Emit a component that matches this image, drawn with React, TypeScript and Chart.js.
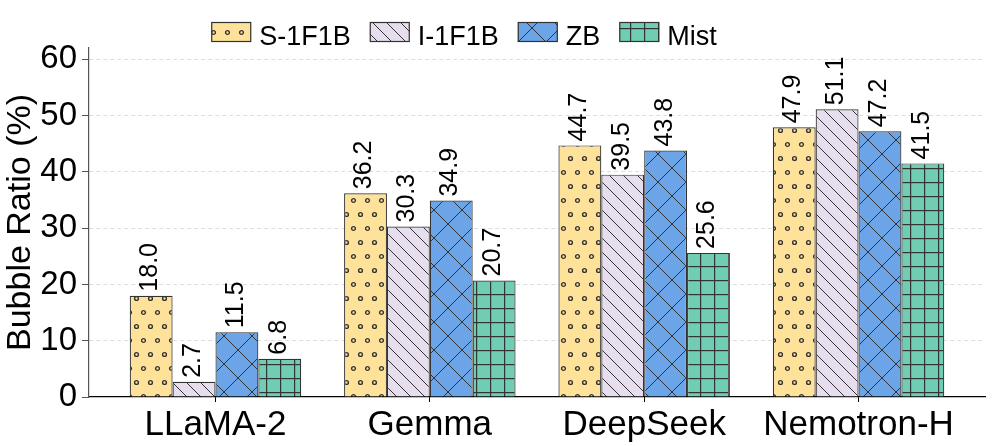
import React, { useEffect, useRef } from 'react';
import { Chart, registerables } from 'chart.js';

Chart.register(...registerables);

const categories = ['LLaMA-2', 'Gemma', 'DeepSeek', 'Nemotron-H'];
const seriesNames = ['S-1F1B', 'I-1F1B', 'ZB', 'Mist'];
const s1f1bValues = [18.0, 36.2, 44.7, 47.9];
const i1f1bValues = [2.7, 30.3, 39.5, 51.1];
const zbValues = [11.5, 34.9, 43.8, 47.2];
const mistValues = [6.8, 20.7, 25.6, 41.5];
const yTickValues = [0, 10, 20, 30, 40, 50, 60];

const FAMILY = '"Liberation Sans", Arial, Helvetica, sans-serif';
const fillColors = ['#FEE29A', '#E6DEEE', '#6BA5E7', '#6FCDB4'];
const hatchKinds = ['dots', 'back', 'cross', 'grid'];
const HATCH = '#333333';

function makePattern(kind: string, bg: string): CanvasPattern | string {
  const c = document.createElement('canvas');
  let w = 14;
  let h = 14;
  if (kind === 'dots') { w = 14; h = 28; }
  if (kind === 'cross') { w = 28; h = 28; }
  c.width = w;
  c.height = h;
  const g = c.getContext('2d');
  if (!g) return bg;
  g.fillStyle = bg;
  g.fillRect(0, 0, w, h);
  g.strokeStyle = HATCH;
  g.fillStyle = HATCH;
  g.lineWidth = 1;
  if (kind === 'dots') {
    const pts = [[3.5, 4.5], [10.5, 18.5]];
    g.lineWidth = 1.4;
    for (const [px, py] of pts) {
      g.beginPath();
      g.arc(px, py, 1.9, 0, Math.PI * 2);
      g.stroke();
    }
  } else if (kind === 'back') {
    g.beginPath();
    for (const k of [-14, 0, 14]) {
      g.moveTo(k, 0);
      g.lineTo(k + 14, 14);
    }
    g.stroke();
  } else if (kind === 'cross') {
    g.beginPath();
    for (const k of [-28, 0, 28]) {
      g.moveTo(k, 0);
      g.lineTo(k + 28, 28);
      g.moveTo(k + 28, 0);
      g.lineTo(k, 28);
    }
    g.stroke();
  } else if (kind === 'grid') {
    g.fillRect(0, 0, w, 1.2);
    g.fillRect(0, 0, 1.2, h);
  }
  const p = g.createPattern(c, 'repeat');
  return p || bg;
}

const legendPlugin = {
  id: 'hatchLegend',
  afterDraw(chart: any) {
    const ctx: CanvasRenderingContext2D = chart.ctx;
    ctx.save();
    ctx.font = `27px ${FAMILY}`;
    const dsets = chart.data.datasets;
    const boxW = 40, boxH = 20, gap = 8, spacing = 19;
    const widths = dsets.map((d: any) => boxW + gap + ctx.measureText(d.label).width);
    const total = widths.reduce((a: number, b: number) => a + b, 0) + spacing * (dsets.length - 1);
    let x = 464 - total / 2;
    const boxTop = 22;
    dsets.forEach((d: any, i: number) => {
      ctx.fillStyle = d.backgroundColor;
      ctx.fillRect(x, boxTop, boxW, boxH);
      ctx.strokeStyle = '#333';
      ctx.lineWidth = 1.2;
      ctx.strokeRect(x + 0.5, boxTop + 0.5, boxW - 1, boxH - 1);
      ctx.fillStyle = '#000';
      ctx.textAlign = 'left';
      ctx.textBaseline = 'alphabetic';
      ctx.fillText(d.label, x + boxW + gap, 45);
      x += widths[i] + spacing;
    });
    ctx.restore();
  },
};

const valueLabelPlugin = {
  id: 'valueLabels',
  afterDatasetsDraw(chart: any) {
    const ctx: CanvasRenderingContext2D = chart.ctx;
    ctx.save();
    ctx.font = `25px ${FAMILY}`;
    ctx.fillStyle = '#000';
    chart.data.datasets.forEach((d: any, di: number) => {
      const meta = chart.getDatasetMeta(di);
      meta.data.forEach((bar: any, i: number) => {
        const v = d.data[i].y as number;
        ctx.save();
        ctx.translate(bar.x - 1, bar.y - 4);
        ctx.rotate(-Math.PI / 2);
        ctx.textAlign = 'left';
        ctx.textBaseline = 'middle';
        ctx.fillText(v.toFixed(1), 0, 0);
        ctx.restore();
      });
    });
    ctx.restore();
  },
};

export default function App() {
  const ref = useRef<HTMLCanvasElement | null>(null);

  useEffect(() => {
    if (!ref.current) return;
    const series = [s1f1bValues, i1f1bValues, zbValues, mistValues];
    const datasets = series.map((vals, si) => ({
      label: seriesNames[si],
      data: vals.map((v, i) => ({ x: i, y: v })),
      backgroundColor: makePattern(hatchKinds[si], fillColors[si]) as any,
      borderColor: '#333333',
      borderWidth: 1.2,
      categoryPercentage: 0.8,
      barPercentage: 1.0,
    }));

    const chart = new Chart(ref.current, {
      type: 'bar',
      data: { datasets },
      plugins: [legendPlugin, valueLabelPlugin],
      options: {
        animation: false,
        responsive: true,
        maintainAspectRatio: false,
        devicePixelRatio: 1,
        layout: { padding: { top: 48, right: 11, left: 0, bottom: 0 } },
        plugins: {
          legend: { display: false },
          tooltip: { enabled: false },
        },
        scales: {
          x: {
            type: 'linear',
            offset: false,
            min: -0.59,
            max: 3.59,
            afterBuildTicks: (s: any) => {
              s.ticks = categories.map((_, i) => ({ value: i }));
            },
            afterFit: (s: any) => {
              s.height = 49;
            },
            ticks: {
              callback: (v: any) => categories[Number(v)] ?? '',
              font: { size: 35, family: FAMILY },
              color: '#000',
              padding: 2,
              autoSkip: false,
              maxRotation: 0,
              minRotation: 0,
            },
            grid: {
              display: true,
              offset: false,
              drawOnChartArea: false,
              drawTicks: true,
              tickLength: 5,
              tickColor: '#000',
              tickWidth: 1,
            },
            border: { display: true, color: '#000', width: 1.2 },
          },
          y: {
            min: 0,
            max: 62,
            afterBuildTicks: (s: any) => {
              s.ticks = yTickValues.map((v) => ({ value: v }));
            },
            afterFit: (s: any) => {
              s.width = 89;
            },
            ticks: {
              font: { size: 33, family: FAMILY },
              color: '#000',
              padding: 5,
            },
            grid: {
              color: (c: any) => (c.tick && c.tick.value === 0 ? 'rgba(0,0,0,0)' : '#dddddd'),
              lineWidth: 1,
              tickLength: 7,
              tickColor: '#555',
              tickWidth: 1,
            },
            border: { display: true, dash: [4, 3], color: '#555', width: 1.2 },
            title: {
              display: true,
              text: 'Bubble Ratio (%)',
              font: { size: 34, family: FAMILY },
              color: '#000',
              padding: { top: 0, bottom: 0 },
            },
          },
        },
      } as any,
    });

    return () => {
      chart.destroy();
    };
  }, []);

  return (
    <div style={{ position: 'absolute', left: 0, top: 0, width: 996, height: 446 }}>
      <canvas ref={ref} />
    </div>
  );
}
